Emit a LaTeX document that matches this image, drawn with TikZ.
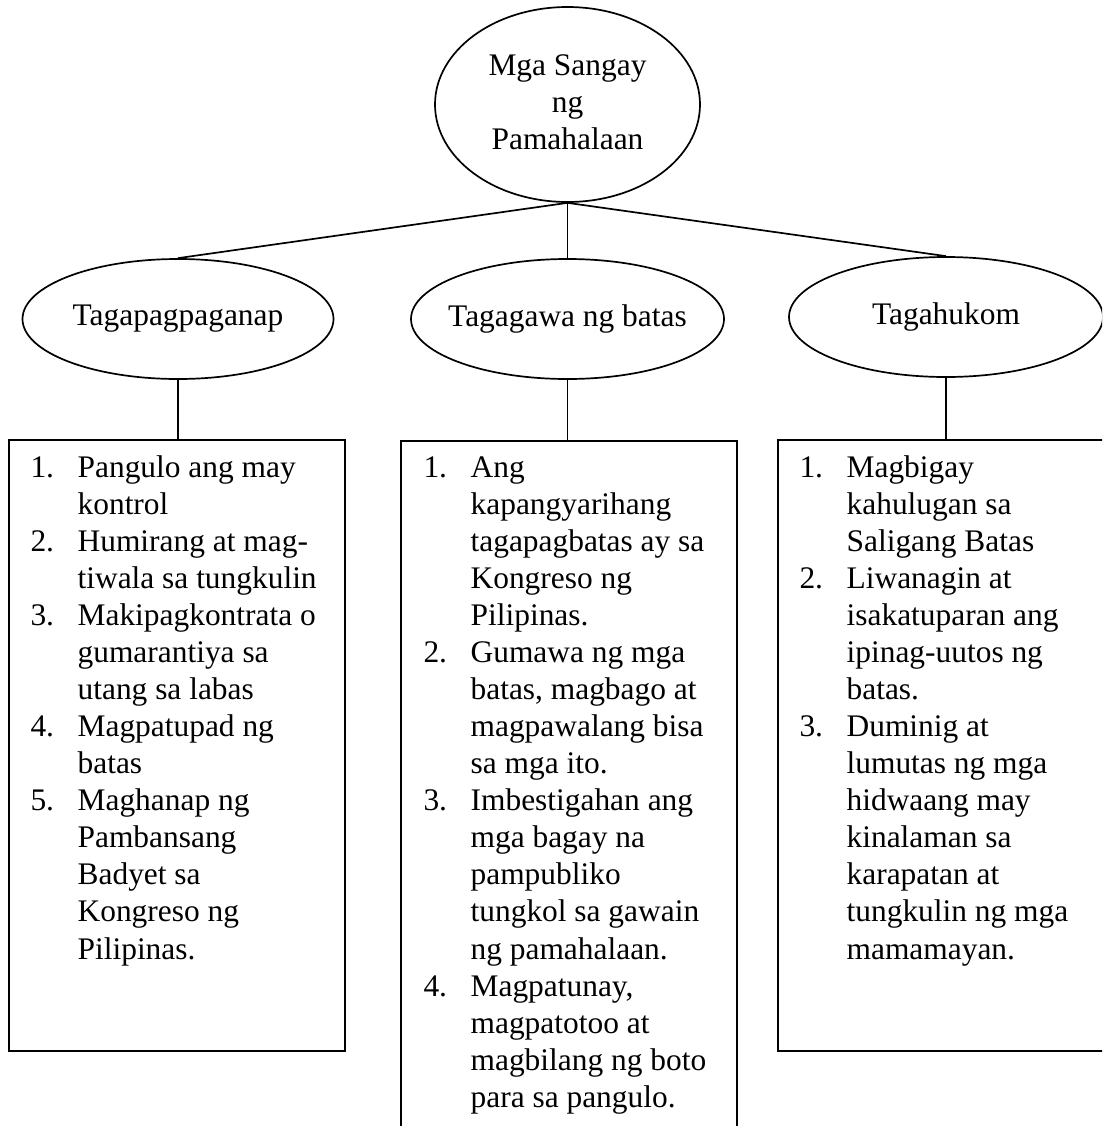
\documentclass[tikz,border=0pt]{standalone}
\usepackage{fontspec}
\setmainfont{Liberation Serif}
\usetikzlibrary{shapes.geometric}
\newcommand{\px}{0.382pt}
\newcommand{\numwidth}{18pt}
\newcommand{\itemno}[1]{\makebox[\numwidth][l]{\strut#1}}
\newcommand{\itemcont}{\hspace*{\numwidth}}
\definecolor{linecolor}{HTML}{000000}
\definecolor{textcolor}{HTML}{000000}

\tikzset{
  branch/.style={ellipse, draw=linecolor, line width=0.65pt, inner sep=0pt},
  branchtext/.style={font=\fontsize{12}{14.15}\selectfont\color{textcolor}, align=center},
  listbox/.style={rectangle, draw=linecolor, line width=0.9pt, inner sep=0pt, anchor=north west},
  listtext/.style={anchor=north west, inner sep=0pt, align=left, font=\fontsize{12}{14.15}\selectfont\color{textcolor}},
  link/.style={draw=linecolor, line width=0.65pt}
}

\begin{document}
\begin{tikzpicture}[x=\px, y=-\px]
  \useasboundingbox (0,0) rectangle (1102,1126);
  \clip (0,0) rectangle (1102,1126);

  % Top ellipse
  \node[branch, minimum width=265*\px, minimum height=195*\px,
    label={[branchtext, yshift=1pt]center:Mga Sangay\\ng\\Pamahalaan}] (gov) at (567.5,104.5) {};

  % The three branches
  \node[branch, minimum width=311*\px, minimum height=120*\px,
    label={[branchtext]center:Tagapagpaganap}] (exec) at (178,319) {};
  \node[branch, minimum width=313*\px, minimum height=120*\px,
    label={[branchtext]center:Tagagawa ng batas}] (legis) at (567.5,319) {};
  \node[branch, minimum width=314*\px, minimum height=120*\px,
    label={[branchtext]center:Tagahukom}] (judic) at (946,317) {};

  \draw[link] (gov.south) -- (exec.north);
  \draw[link] (gov.south) -- (legis.north);
  \draw[link] (gov.south) -- (judic.north);

  % === BOXES ===
  \node[listbox, minimum width=336*\px, minimum height=611*\px] (execbox) at (8,439) {};
  \node[listbox, minimum width=336*\px, minimum height=720*\px] (legisbox) at (400,440) {};
  \node[listbox, minimum width=360*\px, minimum height=611*\px] (judicbox) at (777,439) {};

  \draw[link] (exec.south) -- (exec.south |- execbox.north);
  \draw[link] (legis.south) -- (legis.south |- legisbox.north);
  \draw[link] (judic.south) -- (judic.south |- judicbox.north);

  % Lists
  \node[listtext] (execlist) at (30,451) {
    \itemno{1.}Pangulo ang may\\
    \itemcont kontrol\\
    \itemno{2.}Humirang at mag-\\
    \itemcont tiwala sa tungkulin\\
    \itemno{3.}Makipagkontrata o\\
    \itemcont gumarantiya sa\\
    \itemcont utang sa labas\\
    \itemno{4.}Magpatupad ng\\
    \itemcont batas\\
    \itemno{5.}Maghanap ng\\
    \itemcont Pambansang\\
    \itemcont Badyet sa\\
    \itemcont Kongreso ng\\
    \itemcont Pilipinas.};

  \node[listtext] (legislist) at (423,451) {
    \itemno{1.}Ang\\
    \itemcont kapangyarihang\\
    \itemcont tagapagbatas ay sa\\
    \itemcont Kongreso ng\\
    \itemcont Pilipinas.\\
    \itemno{2.}Gumawa ng mga\\
    \itemcont batas, magbago at\\
    \itemcont magpawalang bisa\\
    \itemcont sa mga ito.\\
    \itemno{3.}Imbestigahan ang\\
    \itemcont mga bagay na\\
    \itemcont pampubliko\\
    \itemcont tungkol sa gawain\\
    \itemcont ng pamahalaan.\\
    \itemno{4.}Magpatunay,\\
    \itemcont magpatotoo at\\
    \itemcont magbilang ng boto\\
    \itemcont para sa pangulo.};

  \node[listtext] (judiclist) at (799,451) {
    \itemno{1.}Magbigay\\
    \itemcont kahulugan sa\\
    \itemcont Saligang Batas\\
    \itemno{2.}Liwanagin at\\
    \itemcont isakatuparan ang\\
    \itemcont ipinag-uutos ng\\
    \itemcont batas.\\
    \itemno{3.}Duminig at\\
    \itemcont lumutas ng mga\\
    \itemcont hidwaang may\\
    \itemcont kinalaman sa\\
    \itemcont karapatan at\\
    \itemcont tungkulin ng mga\\
    \itemcont mamamayan.};
\end{tikzpicture}
\end{document}
